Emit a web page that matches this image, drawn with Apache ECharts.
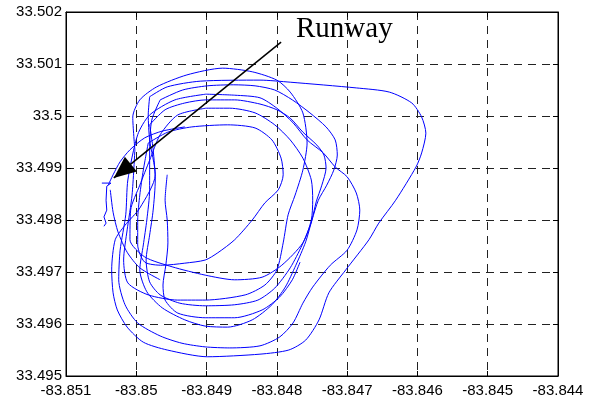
<!DOCTYPE html>
<html>
<head>
<meta charset="utf-8">
<script src="https://cdn.jsdelivr.net/npm/echarts@6/dist/echarts.min.js"></script>
<style>html,body{margin:0;padding:0;background:#fff}#c{width:589px;height:401px}</style>
</head>
<body>
<div id="c"></div>
<script>
// Tick labels
var xTickLabels = ['-83.851','-83.85','-83.849','-83.848','-83.847','-83.846','-83.845','-83.844'];
var yTickLabels = ['33.495','33.496','33.497','33.498','33.499','33.5','33.501','33.502'];

// GPS track segments [longitude, latitude]
var loopOuter = [[-83.84981,33.50037],[-83.84956,33.50056],[-83.84909,33.50067],[-83.84824,33.50069],[-83.84781,33.50065],[-83.84687,33.50054],[-83.84640,33.50046],[-83.84608,33.50025],[-83.84594,33.49998],[-83.84588,33.49967],[-83.84594,33.49929],[-83.84602,33.49902],[-83.84631,33.49838],[-83.84655,33.49794],[-83.84669,33.49762],[-83.84702,33.49704],[-83.84726,33.49660],[-83.84740,33.49608],[-83.84759,33.49569],[-83.84783,33.49550],[-83.84824,33.49542],[-83.84899,33.49537],[-83.84956,33.49550],[-83.84990,33.49565],[-83.85013,33.49594],[-83.85027,33.49627],[-83.85033,33.49660],[-83.85035,33.49704],[-83.85030,33.49762],[-83.85016,33.49790],[-83.84995,33.49823],[-83.84973,33.49887],[-83.84981,33.49954],[-83.84983,33.50002],[-83.84981,33.50037]];
var loopTop = [[-83.85002,33.49935],[-83.85005,33.49998],[-83.84995,33.50031],[-83.84971,33.50056],[-83.84928,33.50079],[-83.84877,33.50092],[-83.84835,33.50085],[-83.84800,33.50069],[-83.84781,33.50046],[-83.84763,33.50006],[-83.84757,33.49948],[-83.84763,33.49896],[-83.84774,33.49848],[-83.84784,33.49810],[-83.84791,33.49756],[-83.84800,33.49704],[-83.84817,33.49675],[-83.84845,33.49656],[-83.84902,33.49646],[-83.84941,33.49646],[-83.84983,33.49656],[-83.85012,33.49679],[-83.85018,33.49723],[-83.85013,33.49781],[-83.85006,33.49848],[-83.85002,33.49935]];
var loopThird = [[-83.84901,33.50042],[-83.84860,33.50040],[-83.84824,33.50035],[-83.84800,33.50015],[-83.84777,33.49987],[-83.84757,33.49954],[-83.84734,33.49929],[-83.84717,33.49902],[-83.84700,33.49883],[-83.84687,33.49852],[-83.84682,33.49819],[-83.84686,33.49781],[-83.84700,33.49742],[-83.84724,33.49713],[-83.84749,33.49671],[-83.84763,33.49640],[-83.84777,33.49602],[-83.84796,33.49575],[-83.84824,33.49558],[-83.84867,33.49554],[-83.84902,33.49556],[-83.84935,33.49563],[-83.84966,33.49577],[-83.84998,33.49602],[-83.85016,33.49637],[-83.85025,33.49685],[-83.85023,33.49742],[-83.85015,33.49810],[-83.85012,33.49877],[-83.84998,33.49964],[-83.84981,33.50002],[-83.84945,33.50031],[-83.84901,33.50042]];
var loopFourth = [[-83.84966,33.50031],[-83.84934,33.50050],[-83.84899,33.50058],[-83.84862,33.50060],[-83.84831,33.50058],[-83.84803,33.50050],[-83.84778,33.50031],[-83.84753,33.50006],[-83.84730,33.49979],[-83.84717,33.49954],[-83.84714,33.49925],[-83.84719,33.49896],[-83.84729,33.49867],[-83.84741,33.49838],[-83.84750,33.49800],[-83.84759,33.49758],[-83.84773,33.49713],[-83.84788,33.49671],[-83.84807,33.49637],[-83.84835,33.49608],[-83.84870,33.49594],[-83.84902,33.49596],[-83.84931,33.49608],[-83.84963,33.49631],[-83.84985,33.49662],[-83.84995,33.49704],[-83.84990,33.49752],[-83.84985,33.49800],[-83.84981,33.49858],[-83.84981,33.49935],[-83.84978,33.49992],[-83.84966,33.50031]];
var loopFifth = [[-83.84981,33.49983],[-83.84959,33.50012],[-83.84931,33.50025],[-83.84901,33.50031],[-83.84860,33.50031],[-83.84824,33.50023],[-83.84800,33.50012],[-83.84781,33.49996],[-83.84763,33.49969],[-83.84743,33.49944],[-83.84733,33.49925],[-83.84730,33.49900],[-83.84736,33.49867],[-83.84744,33.49835],[-83.84751,33.49796],[-83.84764,33.49752],[-83.84781,33.49708],[-83.84803,33.49669],[-83.84827,33.49646],[-83.84860,33.49637],[-83.84902,33.49635],[-83.84938,33.49640],[-83.84966,33.49656],[-83.84981,33.49681],[-83.84986,33.49723],[-83.84981,33.49771],[-83.84976,33.49819],[-83.84973,33.49877],[-83.84976,33.49935],[-83.84981,33.49983]];
var loopSixth = [[-83.84901,33.50015],[-83.84867,33.50015],[-83.84831,33.50006],[-83.84803,33.49983],[-83.84781,33.49954],[-83.84763,33.49919],[-83.84751,33.49877],[-83.84749,33.49838],[-83.84751,33.49800],[-83.84763,33.49756],[-83.84793,33.49713],[-83.84821,33.49690],[-83.84860,33.49685],[-83.84902,33.49694],[-83.84949,33.49710],[-83.84988,33.49729],[-83.85009,33.49762],[-83.85008,33.49819],[-83.84995,33.49867],[-83.84981,33.49915],[-83.84966,33.49964],[-83.84941,33.50002],[-83.84901,33.50015]];
var loopInner = [[-83.84983,33.49948],[-83.84955,33.49969],[-83.84921,33.49979],[-83.84870,33.49983],[-83.84831,33.49977],[-83.84807,33.49954],[-83.84794,33.49919],[-83.84791,33.49887],[-83.84798,33.49858],[-83.84817,33.49833],[-83.84835,33.49800],[-83.84860,33.49762],[-83.84884,33.49737],[-83.84902,33.49723],[-83.84931,33.49717],[-83.84963,33.49713],[-83.84988,33.49719],[-83.84998,33.49752],[-83.84998,33.49800],[-83.84995,33.49848],[-83.84990,33.49896],[-83.84983,33.49948]];
var pathPartial = [[-83.84956,33.49887],[-83.84959,33.49838],[-83.84956,33.49800],[-83.84955,33.49756],[-83.84958,33.49713],[-83.84962,33.49675],[-83.84959,33.49646],[-83.84941,33.49621],[-83.84902,33.49612],[-83.84860,33.49612],[-83.84821,33.49627],[-83.84796,33.49652],[-83.84778,33.49685],[-83.84767,33.49719]];
var pathDeparture = [[-83.85040,33.49867],[-83.85033,33.49887],[-83.85023,33.49912],[-83.85009,33.49935],[-83.84988,33.49958],[-83.84963,33.49971],[-83.84931,33.49979]];
var pathArrival = [[-83.85037,33.49858],[-83.85033,33.49815],[-83.85026,33.49777],[-83.85013,33.49738],[-83.84995,33.49708],[-83.84966,33.49685]];
var runway = [[-83.85049,33.49871],[-83.85036,33.49871],[-83.85042,33.49865],[-83.85043,33.49838],[-83.85042,33.49819],[-83.85046,33.49806],[-83.85043,33.49794],[-83.85046,33.49788]];

// Annotation
var annotationText = 'Runway';
var arrowStart = [-83.84794, 33.50142];
var arrowEnd = [-83.85032, 33.49881];

var xMin = -83.851, xMax = -83.844, yMin = 33.495, yMax = 33.502, step = 0.001;

var tracks = [loopOuter, loopTop, loopThird, loopFourth, loopFifth, loopSixth, loopInner, pathPartial, pathDeparture, pathArrival];

var chart = echarts.init(document.getElementById('c'), null, {renderer: 'canvas'});

function xFmt(v){ var i = Math.round((v - xMin)/step); return xTickLabels[i] || ''; }
function yFmt(v){ var i = Math.round((v - yMin)/step); return yTickLabels[i] || ''; }

var gridLine = {show: true, lineStyle: {color: '#222', type: [8, 6], width: 1}};
var labelFont = {color: '#000', fontFamily: 'Liberation Sans, Arial, sans-serif', fontSize: 15};

var series = tracks.map(function(t){
  return {type: 'line', data: t, showSymbol: false, smooth: 0.25, silent: true,
    lineStyle: {color: '#0000ff', width: 1}, animation: false};
});
series.push({type: 'line', data: runway, showSymbol: false, silent: true,
  lineStyle: {color: '#0000ff', width: 1}, animation: false,
  markLine: {silent: true, animation: false, symbol: ['none', 'triangle'], symbolSize: [19, 22],
    symbolOffset: [[0, 0], [0, 11]],
    label: {show: false}, lineStyle: {color: '#000', width: 1.5, type: 'solid'},
    data: [[{coord: arrowStart}, {coord: arrowEnd}]]}
});

chart.setOption({
  animation: false,
  backgroundColor: '#fff',
  grid: {left: 66, right: 31, top: 12, bottom: 25, show: true, borderColor: '#000', borderWidth: 1},
  xAxis: [
    {type: 'value', min: xMin, max: xMax, interval: step, position: 'bottom',
     axisLine: {show: true, onZero: false, lineStyle: {color: '#000'}},
     axisTick: {show: true, inside: true, length: 5, lineStyle: {color: '#000'}},
     axisLabel: Object.assign({formatter: xFmt, margin: 7, showMinLabel: true, showMaxLabel: true}, labelFont),
     splitLine: gridLine},
    {type: 'value', min: xMin, max: xMax, interval: step, position: 'top',
     axisLine: {show: true, onZero: false, lineStyle: {color: '#000'}},
     axisTick: {show: true, inside: true, length: 5, lineStyle: {color: '#000'}},
     axisLabel: {show: false}, splitLine: {show: false}}
  ],
  yAxis: [
    {type: 'value', min: yMin, max: yMax, interval: step, position: 'left',
     axisLine: {show: true, onZero: false, lineStyle: {color: '#000'}},
     axisTick: {show: true, inside: true, length: 5, lineStyle: {color: '#000'}},
     axisLabel: Object.assign({formatter: yFmt, margin: 4, showMinLabel: true, showMaxLabel: true}, labelFont),
     splitLine: gridLine},
    {type: 'value', min: yMin, max: yMax, interval: step, position: 'right',
     axisLine: {show: true, onZero: false, lineStyle: {color: '#000'}},
     axisTick: {show: true, inside: true, length: 5, lineStyle: {color: '#000'}},
     axisLabel: {show: false}, splitLine: {show: false}}
  ],
  graphic: [{type: 'text', left: 296, top: 15, silent: true,
    style: {text: annotationText, fill: '#000', font: '29px "Liberation Serif", "Times New Roman", serif'}}],
  series: series
});
</script>
</body>
</html>
